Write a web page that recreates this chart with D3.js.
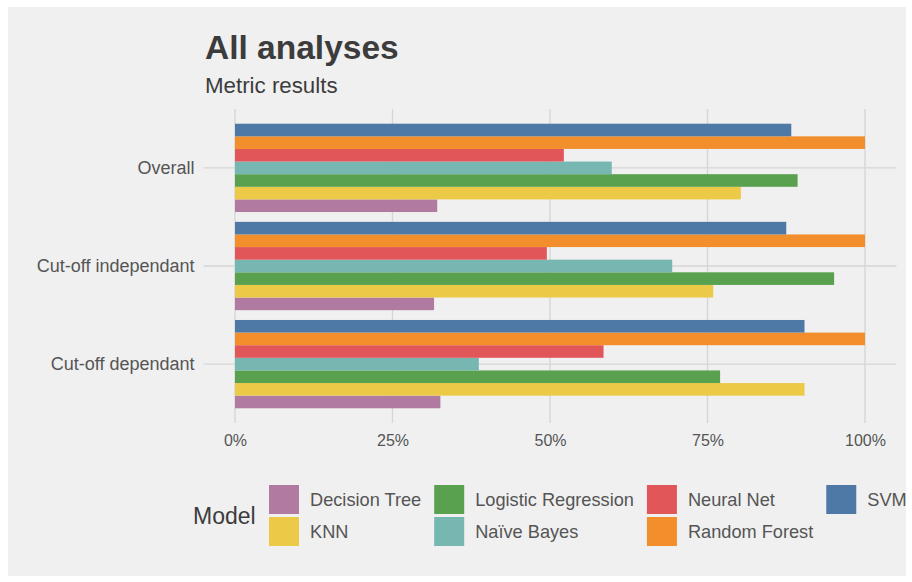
<!DOCTYPE html>
<html>
<head>
<meta charset="utf-8">
<script src="https://cdn.jsdelivr.net/npm/d3@7"></script>
<style>
  html, body { margin: 0; padding: 0; background: #fff; }
  svg { display: block; font-family: "Liberation Sans", Arial, sans-serif; }
</style>
</head>
<body>
<svg id="chart" width="912" height="582"></svg>
<script>
"use strict";

// categories, top to bottom
const categories = [ 'Overall', 'Cut-off independant', 'Cut-off dependant' ];

// models in legend order
const models = [ 'Decision Tree', 'KNN', 'Logistic Regression', 'Naïve Bayes', 'Neural Net', 'Random Forest', 'SVM' ];
const modelColors = [ '#B07AA1', '#EDC948', '#59A14F', '#76B7B2', '#E15759', '#F28E2B', '#4E79A7' ];

// values per model, in category order
const decisionTree = [ 0.321, 0.316, 0.326 ];
const knn          = [ 0.803, 0.759, 0.904 ];
const logistic     = [ 0.893, 0.951, 0.770 ];
const naiveBayes   = [ 0.598, 0.694, 0.387 ];
const neuralNet    = [ 0.522, 0.495, 0.585 ];
const randomForest = [ 1.000, 1.000, 1.000 ];
const svmValues    = [ 0.883, 0.875, 0.904 ];
const series = [ decisionTree, knn, logistic, naiveBayes, neuralNet, randomForest, svmValues ];

const xTicks = [ 0, 0.25, 0.5, 0.75, 1 ];

// flatten into rows
const rows = [];
models.forEach( (m, i) => {
  categories.forEach( (c, j) => {
    rows.push( { model: m, cat: c, value: series[i][j] } );
  });
});

const svg = d3.select( '#chart' );

// background
svg.append( 'rect' )
    .attr( 'x', 8 )
    .attr( 'y', 7 )
    .attr( 'width', 898 )
    .attr( 'height', 569 )
    .attr( 'fill', '#F0F0F0' );

// panel
const panel = { left: 203.5, right: 896.5, top: 109, bottom: 423 };
const expand = ( panel.right - panel.left ) * 0.05 / 1.1;

// scales
const x = d3.scaleLinear()
    .domain( [ 0, 1 ] )
    .range( [ panel.left + expand, panel.right - expand ] );

const y = d3.scaleBand()
    .domain( categories )
    .range( [ panel.top, panel.bottom ] )
    .paddingInner( 0.1 )
    .paddingOuter( 0.15 );

const yInner = d3.scaleBand()
    .domain( models.slice().reverse() )
    .range( [ 0, y.bandwidth() ] );

const color = d3.scaleOrdinal()
    .domain( models )
    .range( modelColors );

// grid
const grid = svg.append( 'g' )
    .attr( 'stroke', '#D6D6D6' )
    .attr( 'stroke-width', 1.4 );

grid.selectAll( 'line.v' )
    .data( xTicks )
  .enter().append( 'line' )
    .attr( 'class', 'v' )
    .attr( 'x1', (d) => x( d ) )
    .attr( 'x2', (d) => x( d ) )
    .attr( 'y1', panel.top )
    .attr( 'y2', panel.bottom );

grid.selectAll( 'line.h' )
    .data( categories )
  .enter().append( 'line' )
    .attr( 'class', 'h' )
    .attr( 'x1', panel.left )
    .attr( 'x2', panel.right )
    .attr( 'y1', (d) => y( d ) + y.bandwidth() / 2 )
    .attr( 'y2', (d) => y( d ) + y.bandwidth() / 2 );

// bars
svg.append( 'g' )
    .selectAll( 'rect' )
    .data( rows )
  .enter().append( 'rect' )
    .attr( 'x', x( 0 ) )
    .attr( 'y', (d) => y( d.cat ) + yInner( d.model ) )
    .attr( 'width', (d) => x( d.value ) - x( 0 ) )
    .attr( 'height', yInner.bandwidth() )
    .attr( 'fill', (d) => color( d.model ) );

// x-axis
const xAxis = d3.axisBottom( x )
    .tickValues( xTicks )
    .tickSize( 0 )
    .tickPadding( 12 )
    .tickFormat( d3.format( '.0%' ) );

svg.append( 'g' )
    .attr( 'transform', 'translate(0,' + panel.bottom + ')' )
    .call( xAxis )
    .call( (g) => g.select( '.domain' ).remove() )
    .selectAll( 'text' )
    .attr( 'font-family', 'Liberation Sans, Arial, sans-serif' )
    .attr( 'font-size', 16 )
    .attr( 'fill', '#555' );

// y-axis
const yAxis = d3.axisLeft( y )
    .tickSize( 0 )
    .tickPadding( 9 );

svg.append( 'g' )
    .attr( 'transform', 'translate(' + panel.left + ',0)' )
    .call( yAxis )
    .call( (g) => g.select( '.domain' ).remove() )
    .selectAll( 'text' )
    .attr( 'font-family', 'Liberation Sans, Arial, sans-serif' )
    .attr( 'font-size', 18 )
    .attr( 'fill', '#555' );

// title
svg.append( 'text' )
    .attr( 'x', 205 )
    .attr( 'y', 59 )
    .attr( 'font-size', 33.5 )
    .attr( 'font-weight', 'bold' )
    .attr( 'fill', '#3C3C3C' )
    .text( 'All analyses' );

svg.append( 'text' )
    .attr( 'x', 205 )
    .attr( 'y', 93 )
    .attr( 'font-size', 22.3 )
    .attr( 'fill', '#3C3C3C' )
    .text( 'Metric results' );

// legend, filled column by column in 2 rows
const legend = svg.append( 'g' );

legend.append( 'text' )
    .attr( 'x', 193 )
    .attr( 'y', 516 )
    .attr( 'dy', '0.35em' )
    .attr( 'font-size', 23 )
    .attr( 'fill', '#3C3C3C' )
    .text( 'Model' );

const keyW = 30, keyH = 29, rowGap = 3, labelGap = 11, colGap = 13;
const legendTop = 485;
let colX = 269;
for( let c=0; c*2<models.length; c++ ) {
  let maxW = 0;
  for( let r=0; r<2; r++ ) {
    const i = c * 2 + r;
    if( i >= models.length ) { break; }
    const ky = legendTop + r * ( keyH + rowGap );
    legend.append( 'rect' )
        .attr( 'x', colX )
        .attr( 'y', ky )
        .attr( 'width', keyW )
        .attr( 'height', keyH )
        .attr( 'fill', color( models[i] ) );
    const t = legend.append( 'text' )
        .attr( 'x', colX + keyW + labelGap )
        .attr( 'y', ky + keyH / 2 )
        .attr( 'dy', '0.35em' )
        .attr( 'font-size', 18.2 )
        .attr( 'fill', '#555' )
        .text( models[i] );
    maxW = Math.max( maxW, t.node().getComputedTextLength() );
  }
  colX += keyW + labelGap + maxW + colGap;
}
</script>
</body>
</html>
